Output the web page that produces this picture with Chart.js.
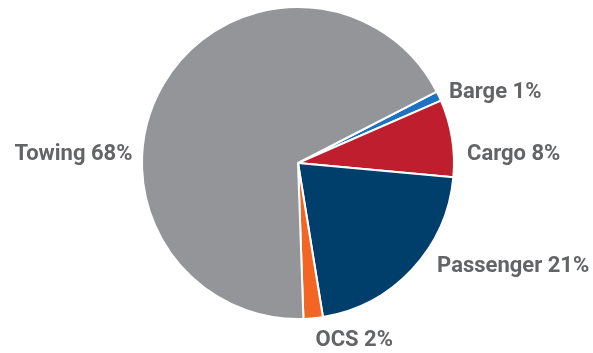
<!DOCTYPE html>
<html>
<head>
<meta charset="utf-8">
<script src="https://cdn.jsdelivr.net/npm/chart.js@4"></script>
<style>
  html, body { margin: 0; padding: 0; background: #ffffff; }
  #wrap { width: 593px; height: 353px; position: relative; }
</style>
</head>
<body>
<div id="wrap"><canvas id="chart"></canvas></div>
<script>
// Share of vessels by segment (percent)
const categories = ['Barge', 'Cargo', 'Passenger', 'OCS', 'Towing'];
const shares = [1, 8, 21, 2, 68];
const sliceColors = ['#1f72c0', '#be1e2d', '#003f6b', '#f26522', '#939598'];

// Label placement: alignment plus a nudge from the slice's outer mid-point
const labelPlacement = {
  Barge:     { align: 'left',   dx: 10,  dy: -4 },
  Cargo:     { align: 'left',   dx: 15,  dy: 16 },
  Passenger: { align: 'left',   dx: 25,  dy: -3 },
  OCS:       { align: 'center', dx: 41,  dy: 22 },
  Towing:    { align: 'right',  dx: -31, dy: 70 }
};

const sliceLabels = {
  id: 'sliceLabels',
  afterDatasetsDraw(chart) {
    const ctx = chart.ctx;
    const meta = chart.getDatasetMeta(0);
    ctx.save();
    ctx.font = 'bold 22px Roboto, "Liberation Sans", Arial, sans-serif';
    ctx.fillStyle = '#636466';
    ctx.textBaseline = 'middle';
    meta.data.forEach((arc, i) => {
      const p = arc.getProps(['x', 'y', 'startAngle', 'endAngle', 'outerRadius'], true);
      const mid = (p.startAngle + p.endAngle) / 2;
      const name = chart.data.labels[i];
      const place = labelPlacement[name];
      const x = p.x + Math.cos(mid) * p.outerRadius + place.dx;
      const y = p.y + Math.sin(mid) * p.outerRadius + place.dy;
      ctx.textAlign = place.align;
      ctx.fillText(name + ' ' + chart.data.datasets[0].data[i] + '%', x, y);
    });
    ctx.restore();
  }
};

new Chart(document.getElementById('chart'), {
  type: 'pie',
  data: {
    labels: categories,
    datasets: [{
      data: shares,
      backgroundColor: sliceColors,
      borderColor: '#ffffff',
      borderWidth: 2
    }]
  },
  options: {
    responsive: true,
    maintainAspectRatio: false,
    animation: false,
    rotation: 62.8,
    layout: { padding: { left: 141, right: 138, top: 6, bottom: 33 } },
    plugins: {
      legend: { display: false },
      tooltip: { enabled: false }
    }
  },
  plugins: [sliceLabels]
});
</script>
</body>
</html>
